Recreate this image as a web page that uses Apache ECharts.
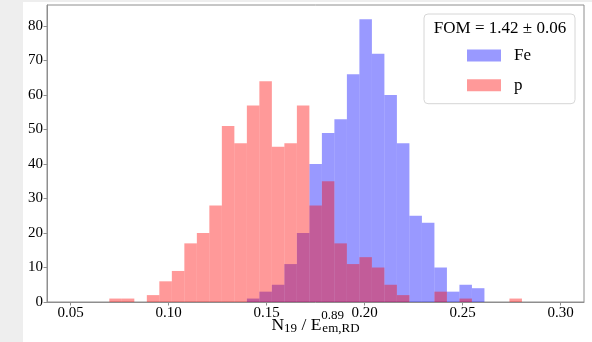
<!DOCTYPE html>
<html>
<head>
<meta charset="utf-8">
<script src="https://cdn.jsdelivr.net/npm/echarts@6/dist/echarts.min.js"></script>
<style>
  html, body { margin: 0; padding: 0; background: #eeeeee; width: 592px; height: 342px; overflow: hidden; }
  #chart { position: absolute; left: 23px; top: 2px; width: 569px; height: 340px; background: #ffffff; }
</style>
</head>
<body>
<div id="chart"></div>
<script>
// Histogram bin edges (shared by both series)
const binEdges = [0.06970, 0.07608, 0.08246, 0.08884, 0.09522, 0.10160, 0.10798, 0.11436, 0.12074,
  0.12712, 0.13350, 0.13988, 0.14626, 0.15264, 0.15902, 0.16540, 0.17178, 0.17816, 0.18454,
  0.19092, 0.19730, 0.20368, 0.21006, 0.21644, 0.22282, 0.22920, 0.23558, 0.24196, 0.24834,
  0.25472, 0.26110, 0.26748, 0.27386, 0.28024];
// Counts per bin
const feCounts = [0, 0, 0, 0, 0, 0, 0, 0, 0, 0, 0, 1, 3, 5, 11, 20, 40, 49, 53, 66, 82, 72, 60, 46, 25, 23, 10, 3, 5, 4, 0, 0, 0];
const pCounts  = [1, 1, 0, 2, 6, 9, 17, 20, 28, 51, 46, 57, 64, 45, 46, 57, 28, 35, 17, 11, 13, 10, 5, 2, 0, 0, 3, 0, 1, 0, 0, 0, 1];
const seriesNames = ['Fe', 'p'];
const xTicks = [0.05, 0.10, 0.15, 0.20, 0.25, 0.30];
const yTicks = [0, 10, 20, 30, 40, 50, 60, 70, 80];
const legendTitle = 'FOM = 1.42 ± 0.06';

const FONT = 'Liberation Serif';
const SPINE = '#8e8e8e';

function toBars(counts) {
  const out = [];
  for (let i = 0; i < counts.length; i++) {
    if (counts[i] > 0) out.push([binEdges[i], binEdges[i + 1], counts[i]]);
  }
  return out;
}

function makeRender(color) {
  return function (params, api) {
    const p0 = api.coord([api.value(0), api.value(2)]);
    const p1 = api.coord([api.value(1), 0]);
    return {
      type: 'rect',
      shape: { x: p0[0], y: p0[1], width: p1[0] - p0[0], height: p1[1] - p0[1] },
      style: { fill: color }
    };
  };
}

const colors = ['rgba(0,0,255,0.4)', 'rgba(255,0,0,0.4)'];
const counts = [feCounts, pCounts];

const chart = echarts.init(document.getElementById('chart'), null, { renderer: 'canvas' });
chart.setOption({
  animation: false,
  grid: { left: 24, right: 8, top: 3, bottom: 40, show: true, borderColor: SPINE, borderWidth: 1,
    backgroundColor: 'transparent', containLabel: false, outerBoundsMode: 'none' },
  xAxis: {
    type: 'value',
    min: 0.0379, max: 0.3119,
    splitLine: { show: false },
    axisLine: { show: true, lineStyle: { color: SPINE, width: 1 } },
    axisTick: { show: true, customValues: xTicks, length: 3.5, lineStyle: { color: SPINE } },
    axisLabel: { customValues: xTicks, margin: 4, color: '#000', fontFamily: FONT, fontSize: 15,
      formatter: v => v.toFixed(2) },
    name: '{m|N}{sb|19}{m| / E}{sp|0.89}{sb|em,RD}',
    nameLocation: 'middle',
    nameGap: 7,
    nameMoveOverlap: false,
    nameTextStyle: {
      rich: {
        m: { fontFamily: FONT, fontSize: 17.5, color: '#000', align: 'left' },
        sb: { fontFamily: FONT, fontSize: 13, color: '#000', padding: [7, 0, 0, 0], align: 'left' },
        sp: { fontFamily: FONT, fontSize: 13, color: '#000', padding: [0, 0, 20, 0], width: 1, align: 'left' }
      }
    }
  },
  yAxis: {
    type: 'value',
    min: 0, max: 86.1,
    splitLine: { show: false },
    axisLine: { show: true, lineStyle: { color: SPINE, width: 1 } },
    axisTick: { show: true, customValues: yTicks, length: 3.5, lineStyle: { color: SPINE } },
    axisLabel: { customValues: yTicks, margin: 4, color: '#000', fontFamily: FONT, fontSize: 15 }
  },
  legend: {
    orient: 'vertical',
    left: 401, top: 12,
    padding: [33, 44, 10, 43],
    itemWidth: 34, itemHeight: 12, itemGap: 12.7,
    icon: 'rect',
    borderColor: '#d6d6d6', borderWidth: 1, borderRadius: 4,
    backgroundColor: 'rgba(255,255,255,0.8)',
    textStyle: { fontFamily: FONT, fontSize: 17, color: '#000', lineHeight: 14, padding: [0, 0, 0, 8] },
    data: seriesNames
  },
  graphic: [{
    type: 'text', x: 477, y: 27, z: 100,
    style: { text: legendTitle, fontFamily: FONT, fontSize: 17, fill: '#000', textAlign: 'center', textVerticalAlign: 'middle' }
  }],
  series: seriesNames.map((name, i) => ({
    name: name,
    type: 'custom',
    renderItem: makeRender(colors[i]),
    itemStyle: { color: colors[i] },
    encode: { x: [0, 1], y: 2 },
    data: toBars(counts[i])
  }))
});
</script>
</body>
</html>
